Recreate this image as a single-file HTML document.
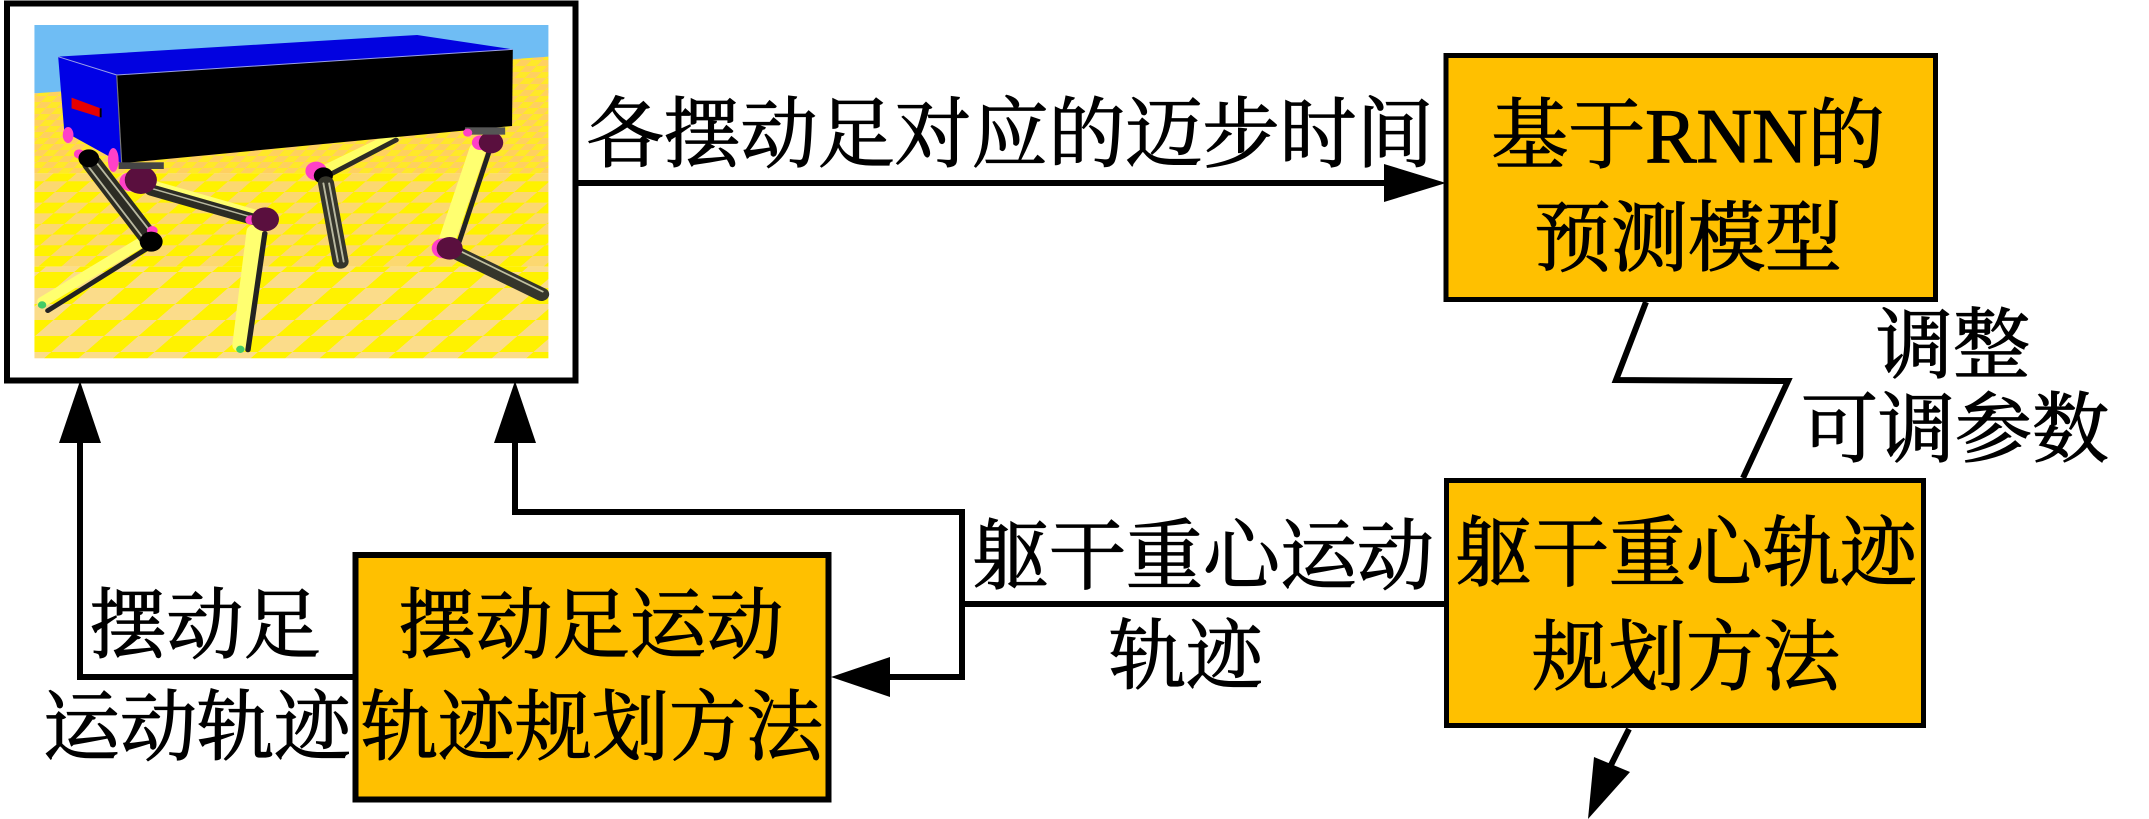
<!DOCTYPE html>
<html><head><meta charset="utf-8"><style>
html,body{margin:0;padding:0;background:#fff;width:2149px;height:819px;overflow:hidden}
svg{display:block}
text{font-family:"Liberation Serif","Noto Serif CJK SC",serif;font-size:77px;fill:#000;text-anchor:middle;stroke:#000;stroke-width:1.2px}
</style></head><body>
<svg width="2149" height="819" viewBox="0 0 2149 819" xmlns="http://www.w3.org/2000/svg">
<defs>
<pattern id="c1" width="56" height="36" patternUnits="userSpaceOnUse" patternTransform="skewX(-40)"><rect width="56" height="36" fill="#ffe928"/><rect width="28" height="18" fill="#ffd060"/><rect x="28" y="18" width="28" height="18" fill="#ffd060"/></pattern>
<pattern id="c2" width="120" height="64" patternUnits="userSpaceOnUse" patternTransform="skewX(-45)"><rect width="120" height="64" fill="#fff200"/><rect width="60" height="32" fill="#fcd870"/><rect x="60" y="32" width="60" height="32" fill="#fcd870"/></pattern>
<pattern id="c3" width="180" height="96" patternUnits="userSpaceOnUse" patternTransform="translate(20,0) skewX(-45)"><rect width="180" height="96" fill="#fff200"/><rect width="90" height="48" fill="#fbdc8a"/><rect x="90" y="48" width="90" height="48" fill="#fbdc8a"/></pattern>
</defs>
<rect x="7" y="3.500" width="568.500" height="377" fill="#fff" stroke="#000" stroke-width="6"/>
<g transform="scale(0.3827,0.3333)">
<rect x="90" y="75" width="1343" height="205" fill="#6fbdf4"/>
<polygon points="90,280 1433,170 1433,520 90,520" fill="url(#c1)"/>
<rect x="90" y="520" width="1343" height="280" fill="url(#c2)"/>
<rect x="90" y="800" width="1343" height="275" fill="url(#c3)"/>
<g stroke-linecap="round">
<!-- leg 3 -->
<line x1="1030" y1="410" x2="850" y2="510" stroke="#ffff66" stroke-width="30"/>
<line x1="1035" y1="420" x2="860" y2="525" stroke="#2c2c24" stroke-width="14"/>
<circle cx="826" cy="513" r="28" fill="#ff40c8"/>
<circle cx="845" cy="527" r="25" fill="#000"/>
<line x1="852" y1="550" x2="890" y2="785" stroke="#35352b" stroke-width="42"/>
<line x1="845" y1="550" x2="883" y2="785" stroke="#b8b8a0" stroke-width="5"/>
<line x1="860" y1="550" x2="898" y2="785" stroke="#b8b8a0" stroke-width="5"/>
<!-- leg 4 -->
<line x1="1248" y1="450" x2="1170" y2="715" stroke="#ffff70" stroke-width="44"/>
<line x1="1278" y1="455" x2="1200" y2="725" stroke="#222" stroke-width="13"/>
<circle cx="1255" cy="428" r="22" fill="#ff40c8"/>
<circle cx="1283" cy="428" r="32" fill="#5a0f3e"/>
<line x1="1195" y1="760" x2="1415" y2="883" stroke="#35352b" stroke-width="40"/>
<line x1="1200" y1="752" x2="1418" y2="875" stroke="#c0c0a0" stroke-width="5"/>
<circle cx="1158" cy="745" r="30" fill="#ff40c8"/>
<circle cx="1175" cy="745" r="34" fill="#5a0f3e"/>
<!-- leg 2 -->
<line x1="395" y1="550" x2="670" y2="640" stroke="#ffff70" stroke-width="20"/>
<line x1="395" y1="570" x2="668" y2="660" stroke="#2c2c24" stroke-width="34"/>
<line x1="395" y1="565" x2="668" y2="655" stroke="#b8b8a0" stroke-width="4"/>
<circle cx="340" cy="545" r="28" fill="#ff40c8"/>
<circle cx="368" cy="540" r="42" fill="#5a0f3e"/>
<line x1="665" y1="695" x2="628" y2="1035" stroke="#ffff70" stroke-width="42"/>
<line x1="692" y1="700" x2="648" y2="1050" stroke="#222" stroke-width="14"/>
<circle cx="628" cy="1048" r="11" fill="#44cc66"/>
<circle cx="655" cy="660" r="14" fill="#ff40c8"/>
<circle cx="693" cy="658" r="36" fill="#5a0f3e"/>
<!-- leg 1 -->
<line x1="372" y1="725" x2="112" y2="905" stroke="#ffff70" stroke-width="30"/>
<line x1="385" y1="745" x2="125" y2="932" stroke="#222" stroke-width="14"/>
<circle cx="110" cy="915" r="11" fill="#44cc66"/>
<line x1="240" y1="490" x2="390" y2="715" stroke="#2c2c24" stroke-width="52"/>
<line x1="228" y1="495" x2="378" y2="720" stroke="#b8b8a0" stroke-width="5"/>
<line x1="250" y1="485" x2="400" y2="705" stroke="#b8b8a0" stroke-width="5"/>
<circle cx="398" cy="692" r="14" fill="#ff40c8"/>
<circle cx="395" cy="725" r="30" fill="#000"/>
</g>
<!-- body -->
<polygon points="152,170 1090,105 1340,148 305,225" fill="#0202e0"/>
<polygon points="152,170 305,225 318,490 168,395" fill="#0000e6"/>
<polygon points="305,225 1340,148 1338,378 318,490" fill="#000"/>
<polyline points="152,170 305,225 1340,148" fill="none" stroke="#9aa0e8" stroke-width="3"/>
<line x1="305" y1="225" x2="318" y2="490" stroke="#777" stroke-width="3"/>
<polygon points="187,293 263,325 263,352 187,325" fill="#e60000"/>
<line x1="263" y1="325" x2="263" y2="352" stroke="#000" stroke-width="5"/>
<ellipse cx="178" cy="405" rx="14" ry="24" fill="#ff40c8"/>
<ellipse cx="296" cy="480" rx="14" ry="36" fill="#ff40c8"/>
<circle cx="207" cy="462" r="14" fill="#ff40c8"/>
<circle cx="232" cy="475" r="27" fill="#000"/>
<rect x="310" y="487" width="118" height="20" fill="#444"/>
<rect x="1215" y="382" width="105" height="22" fill="#555"/>
<circle cx="1222" cy="398" r="12" fill="#ff40c8"/>
</g>

<!-- boxes -->
<rect x="1446" y="55.500" width="489.500" height="244" fill="#ffc000" stroke="#000" stroke-width="5"/>
<rect x="1446.500" y="480.500" width="477" height="245" fill="#ffc000" stroke="#000" stroke-width="5"/>
<rect x="355.500" y="555" width="473" height="244.500" fill="#ffc000" stroke="#000" stroke-width="6"/>

<!-- connectors -->
<g fill="none" stroke="#000" stroke-width="6">
<line x1="578" y1="183" x2="1390" y2="183"/>
<polyline points="353,677 80,677 80,435"/>
<polyline points="1444,604 962,604"/>
<polyline points="515,435 515,512 962,512 962,677 880,677"/>
<polyline points="1646,302 1616,380 1788,381 1743,478"/>
<line x1="1629" y1="729" x2="1611" y2="765"/>
</g>
<g fill="#000">
<polygon points="1446,183 1384,164 1384,202"/>
<polygon points="80,381 59,443 101,443"/>
<polygon points="515,381 494,443 536,443"/>
<polygon points="831,677 890,657 890,697"/>
<polygon points="1588,819 1594,757 1630,772"/>
</g>

<!-- labels -->
<text x="1010" y="161">各摆动足对应的迈步时间</text>
<text x="1688" y="162">基于RNN的</text>
<text x="1688" y="265">预测模型</text>
<text x="1686" y="580">躯干重心轨迹</text>
<text x="1686" y="684">规划方法</text>
<text x="591" y="652">摆动足运动</text>
<text x="592" y="754">轨迹规划方法</text>
<text x="205" y="652">摆动足</text>
<text x="197" y="754">运动轨迹</text>
<text x="1953" y="372">调整</text>
<text x="1955" y="456">可调参数</text>
<text x="1203" y="583">躯干重心运动</text>
<text x="1186" y="683">轨迹</text>
</svg>
</body></html>
